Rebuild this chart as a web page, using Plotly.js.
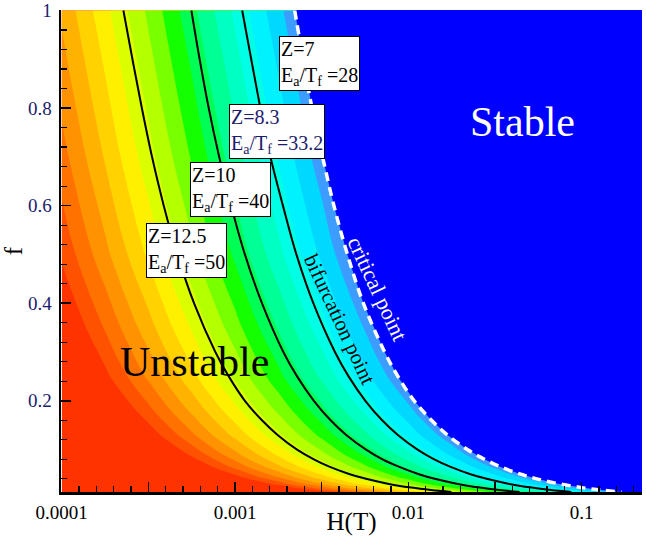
<!DOCTYPE html>
<html><head><meta charset="utf-8">
<script src="https://cdn.plot.ly/plotly-3.0.1.min.js"></script>
<style>html,body{margin:0;padding:0;background:#fff}#chart{width:646px;height:536px}</style>
</head><body><div id="chart"></div><script>
// colour field grid (H columns, f rows), level value
const gridH = [1e-4, 1.778e-4, 3.162e-4, 5.623e-4, 1e-3, 1.778e-3, 3.162e-3, 5.623e-3, 0.01, 0.01778, 0.03162, 0.05623, 0.1, 0.1778, 0.3162];
const gridF = [0.013, 0.02, 0.03, 0.045, 0.065, 0.09, 0.13, 0.18, 0.25, 0.35, 0.5, 0.7, 1.0];
const fieldZ = [
 [-5.89,-5.64,-5.39,-5.14,-4.89,-4.64,-4.39,-4.14,-3.89,-3.64,-3.39,-3.14,-2.89,-2.64,-2.39],
 [-5.70,-5.45,-5.20,-4.95,-4.70,-4.45,-4.20,-3.95,-3.70,-3.45,-3.20,-2.95,-2.70,-2.45,-2.20],
 [-5.52,-5.27,-5.02,-4.77,-4.52,-4.27,-4.02,-3.77,-3.52,-3.27,-3.02,-2.77,-2.52,-2.27,-2.02],
 [-5.35,-5.10,-4.85,-4.60,-4.35,-4.10,-3.85,-3.60,-3.35,-3.10,-2.85,-2.60,-2.35,-2.10,-1.85],
 [-5.19,-4.94,-4.69,-4.44,-4.19,-3.94,-3.69,-3.44,-3.19,-2.94,-2.69,-2.44,-2.19,-1.94,-1.69],
 [-5.05,-4.80,-4.55,-4.30,-4.05,-3.80,-3.55,-3.30,-3.05,-2.80,-2.55,-2.30,-2.05,-1.80,-1.55],
 [-4.89,-4.64,-4.39,-4.14,-3.89,-3.64,-3.39,-3.14,-2.89,-2.64,-2.39,-2.14,-1.89,-1.64,-1.39],
 [-4.75,-4.50,-4.25,-4.00,-3.75,-3.50,-3.25,-3.00,-2.75,-2.50,-2.25,-2.00,-1.75,-1.50,-1.25],
 [-4.60,-4.35,-4.10,-3.85,-3.60,-3.35,-3.10,-2.85,-2.60,-2.35,-2.10,-1.85,-1.60,-1.35,-1.10],
 [-4.46,-4.21,-3.96,-3.71,-3.46,-3.21,-2.96,-2.71,-2.46,-2.21,-1.96,-1.71,-1.46,-1.21,-0.96],
 [-4.30,-4.05,-3.80,-3.55,-3.30,-3.05,-2.80,-2.55,-2.30,-2.05,-1.80,-1.55,-1.30,-1.05,-0.80],
 [-4.16,-3.91,-3.66,-3.41,-3.16,-2.91,-2.66,-2.41,-2.16,-1.91,-1.66,-1.41,-1.16,-0.91,-0.66],
 [-4.00,-3.75,-3.50,-3.25,-3.00,-2.75,-2.50,-2.25,-2.00,-1.75,-1.50,-1.25,-1.00,-0.75,-0.50]
];
const bandColours = ['#FF3300','#FF5200','#FF7200','#FF9200','#FFB200','#FFD200','#FFF000','#DCFF00','#B4FF00','#78FF00','#14FF00','#00FF55','#00FF95','#00FFC2','#00FFE4','#00F2FF','#00D8FF','#3C9CFF'];

// curves: f values and H at each f
const curveF = [1.0, 0.9, 0.8, 0.7, 0.6, 0.5, 0.4, 0.3, 0.25, 0.2, 0.16, 0.13, 0.1, 0.08, 0.065, 0.05, 0.04, 0.03, 0.022, 0.017, 0.013];
const hZ125 = [2.27e-4, 2.56e-4, 2.9e-4, 3.32e-4, 3.88e-4, 4.65e-4, 5.8e-4, 7.7e-4, 9.2e-4, 1.14e-3, 1.43e-3, 1.76e-3, 2.28e-3, 2.85e-3, 3.5e-3, 4.55e-3, 5.7e-3, 7.6e-3, 0.0104, 0.0135, 0.0177];
const hZ10 = [5.6e-4, 6.25e-4, 7.05e-4, 8.1e-4, 9.5e-4, 1.14e-3, 1.43e-3, 1.9e-3, 2.28e-3, 2.85e-3, 3.56e-3, 4.38e-3, 5.7e-3, 7.1e-3, 8.8e-3, 0.0114, 0.0142, 0.019, 0.0259, 0.0335, 0.0438];
const hZ83 = [1.1e-3, 1.24e-3, 1.4e-3, 1.6e-3, 1.89e-3, 2.26e-3, 2.83e-3, 3.77e-3, 4.52e-3, 5.65e-3, 7.06e-3, 8.7e-3, 0.0113, 0.0141, 0.0174, 0.0226, 0.0283, 0.0377, 0.0514, 0.0665, 0.087];
const hZ7 = [2.21e-3, 2.47e-3, 2.78e-3, 3.2e-3, 3.72e-3, 4.45e-3, 5.5e-3, 7.3e-3, 8.7e-3, 0.0108, 0.0136, 0.0168, 0.0219, 0.0275, 0.0338, 0.044, 0.055, 0.0735, 0.1, 0.13, 0.17];

const xTickVals = [1e-4, 3.162e-4, 1e-3, 3.162e-3, 1e-2, 3.162e-2, 1e-1];
const xTickText = ['0.0001', ' ', '0.001', ' ', '0.01', ' ', '0.1'];
const yTickVals = [0.2, 0.4, 0.6, 0.8, 1.0];
const yTickText = ['0.2', '0.4', '0.6', '0.8', '1'];

const serif = 'Liberation Serif, Times New Roman, serif';
const navy = '#1c1c6c';

// minor tick positions: every tenth of a decade
const minorX = [];
for (let k = 1; k < 34; k++) { if (k % 5 !== 0) minorX.push(Math.pow(10, -4 + k / 10)); }

const nb = bandColours.length;
const traces = [
  { type: 'contour', x: gridH, y: gridF, z: fieldZ,
    contours: { start: -4.32, end: -2.72, size: 0.1, coloring: 'fill', showlines: false },
    line: { width: 0 }, colorscale: bandColours.map((c, i) => [i / (nb - 1), c]),
    showscale: false, hoverinfo: 'skip' },
  { type: 'scatter', mode: 'lines', x: hZ7.concat([1, 1, hZ7[0]]), y: curveF.concat([0.0, 1.05, 1.05]),
    fill: 'toself', fillcolor: '#0000FF', line: { width: 0, color: '#0000FF' }, hoverinfo: 'skip', showlegend: false },
  { type: 'scatter', mode: 'lines', x: hZ125, y: curveF, line: { color: '#000', width: 2, shape: 'spline' }, showlegend: false },
  { type: 'scatter', mode: 'lines', x: hZ10, y: curveF, line: { color: '#000', width: 2, shape: 'spline' }, showlegend: false },
  { type: 'scatter', mode: 'lines', x: hZ83, y: curveF, line: { color: '#000', width: 2, shape: 'spline' }, showlegend: false },
  { type: 'scatter', mode: 'lines', x: hZ7, y: curveF, line: { color: '#fff', width: 3.5, dash: '9px,6px', shape: 'spline' }, showlegend: false }
];

function box(text, xl, yt, color) {
  return { xref: 'paper', yref: 'paper', x: xl, y: yt, xanchor: 'left', yanchor: 'top', text: text,
    showarrow: false, align: 'left', bgcolor: '#fff', bordercolor: '#000', borderwidth: 1, borderpad: 1,
    font: { family: serif, size: 20, color: color } };
}
function label(text, x, y, size, color, angle) {
  return { xref: 'paper', yref: 'paper', x: x, y: y, xanchor: 'center', yanchor: 'middle', text: text,
    showarrow: false, textangle: angle, font: { family: serif, size: size, color: color } };
}

const layout = {
  width: 646, height: 536,
  margin: { l: 61, r: 4, t: 10, b: 44 },
  paper_bgcolor: '#fff', plot_bgcolor: '#fff', showlegend: false,
  xaxis: { type: 'log', range: [-4.004, -0.652], tickmode: 'array', tickvals: xTickVals, ticktext: xTickText,
    ticks: 'inside', ticklen: 10, tickwidth: 1.5, tickcolor: '#000', showline: true, linewidth: 2.5, linecolor: '#000',
    showgrid: false, zeroline: false, tickfont: { family: serif, size: 19, color: '#000' }, ticklabelstandoff: 2,
    minor: { tickmode: 'array', tickvals: minorX, ticks: 'inside', ticklen: 6, tickwidth: 1.2, tickcolor: '#000', showgrid: false },
    title: { text: 'H(T)', font: { family: serif, size: 25, color: '#000' }, standoff: 4 } },
  yaxis: { range: [0.013, 1.001], tickmode: 'array', tickvals: yTickVals, ticktext: yTickText,
    ticks: 'inside', ticklen: 10, tickwidth: 1.5, tickcolor: '#000', showline: true, linewidth: 2.5, linecolor: '#000',
    showgrid: false, zeroline: false, tickfont: { family: serif, size: 19, color: navy }, ticklabelstandoff: 3,
    minor: { dtick: 0.04, tick0: 0, ticks: 'inside', ticklen: 6, tickwidth: 1.2, tickcolor: '#000', showgrid: false },
    title: { text: 'f', font: { family: serif, size: 25, color: '#000' }, standoff: 8 } },
  annotations: [
    box('Z=7<br>E<sub>a</sub>/T<sub>f</sub> =28', 0.3752, 0.946, '#000'),
    box('Z=8.3<br>E<sub>a</sub>/T<sub>f</sub> =33.2', 0.2892, 0.805, navy),
    box('Z=10<br>E<sub>a</sub>/T<sub>f</sub> =40', 0.222, 0.6846, '#000'),
    box('Z=12.5<br>E<sub>a</sub>/T<sub>f</sub> =50', 0.1463, 0.5581, '#000'),
    label('Stable', 0.795, 0.7676, 42, '#fff', 0),
    label('Unstable', 0.2306, 0.2697, 42, '#000', 0),
    label('bifurcation point', 0.4802, 0.357, 21, '#000', 65),
    label('critical point', 0.5439, 0.4212, 22, '#fff', 65)
  ]
};

Plotly.newPlot('chart', traces, layout, { displayModeBar: false, staticPlot: true });
</script></body></html>
